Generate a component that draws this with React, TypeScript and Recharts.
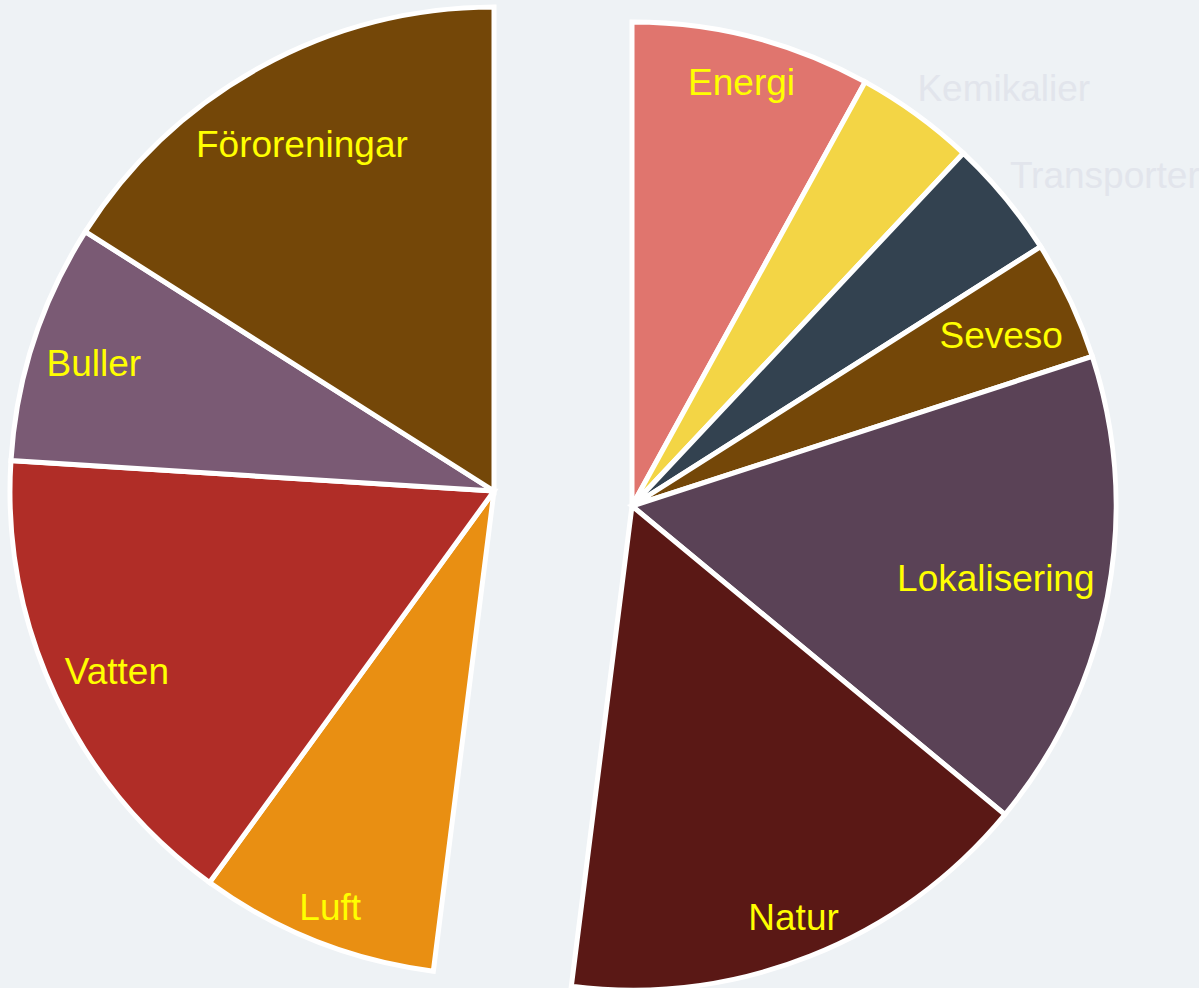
// Delat cirkeldiagram: miljöaspekter, två halvor förskjutna från varandra (Recharts)
import { PieChart, Pie, Cell } from 'recharts';

// Högra halvan (medurs från klockan 12)
const rightNames = ['Energi', 'Kemikalier', 'Transporter', 'Seveso', 'Lokalisering', 'Natur'];
const rightValues = [2, 1, 1, 1, 4, 4];
const rightColors = ['#e0756e', '#f3d545', '#334250', '#744708', '#5a4256', '#5a1815'];

// Vänstra halvan (fortsätter medurs)
const leftNames = ['Luft', 'Vatten', 'Buller', 'Föroreningar'];
const leftValues = [2, 4, 2, 4];
const leftColors = ['#e98f12', '#b02d27', '#7a5a74', '#744708'];

// Etiketter som hamnar utanför tårtan
const outsideLabels = ['Kemikalier', 'Transporter'];

const BG = '#eef2f5';
const LABEL_FONT = '"Liberation Sans", Arial, sans-serif';
const FONT_SIZE = 37;
const RADIUS = 484;

const rightData = rightNames.map((name, i) => ({ name, value: rightValues[i] }));
const leftData = leftNames.map((name, i) => ({ name, value: leftValues[i] }));

const sum = (arr: number[]) => arr.reduce((a, b) => a + b, 0);
const total = sum(rightValues) + sum(leftValues);
const splitAngle = 90 - (sum(rightValues) / total) * 360;

let canvas: HTMLCanvasElement | null = null;
function textWidth(text: string): number {
  if (!canvas) canvas = document.createElement('canvas');
  const ctx = canvas.getContext('2d');
  if (!ctx) return text.length * FONT_SIZE * 0.5;
  ctx.font = `${FONT_SIZE}px "Liberation Sans", Arial`;
  return ctx.measureText(text).width;
}

// Etiketten placeras längs mittvinkeln, så långt ut som texten ryms i sektorn
function renderLabel(props: any) {
  const { cx, cy, midAngle, outerRadius } = props;
  const name: string = props.name ?? props.payload?.name;
  const rad = Math.PI / 180;
  const ux = Math.cos(-midAngle * rad);
  const uy = Math.sin(-midAngle * rad);

  if (outsideLabels.includes(name)) {
    const r = outerRadius + 22;
    return (
      <text
        x={cx + r * ux - 12}
        y={cy + r * uy - 8}
        fill="#e2e5ec"
        fontSize={FONT_SIZE}
        fontFamily={LABEL_FONT}
        textAnchor="start"
        dominantBaseline="central"
      >
        {name}
      </text>
    );
  }

  const w = textWidth(name);
  const h = 28;
  const pad = 14;
  const c0 = Math.sign(ux) * w / 2;
  const c1 = Math.sign(uy) * h / 2;
  const uc = ux * c0 + uy * c1;
  const cc = c0 * c0 + c1 * c1;
  const lim = outerRadius - pad;
  const d = -uc + Math.sqrt(Math.max(0, uc * uc - cc + lim * lim));

  return (
    <text
      x={cx + d * ux}
      y={cy + d * uy + 3}
      fill="#ffff00"
      fontSize={FONT_SIZE}
      fontFamily={LABEL_FONT}
      textAnchor="middle"
      dominantBaseline="central"
    >
      {name}
    </text>
  );
}

export default function App() {
  return (
    <div
      style={{
        position: 'absolute',
        left: 0,
        top: 0,
        width: 1199,
        height: 988,
        background: BG,
        overflow: 'hidden',
      }}
    >
      <PieChart width={1199} height={988} margin={{ top: 0, right: 0, bottom: 0, left: 0 }}>
        <Pie
          data={rightData}
          dataKey="value"
          nameKey="name"
          cx={632}
          cy={506}
          outerRadius={RADIUS}
          startAngle={90}
          endAngle={splitAngle}
          stroke="#ffffff"
          strokeWidth={5}
          label={renderLabel}
          labelLine={false}
          isAnimationActive={false}
        >
          {rightData.map((d, i) => (
            <Cell key={d.name} fill={rightColors[i]} />
          ))}
        </Pie>
        <Pie
          data={leftData}
          dataKey="value"
          nameKey="name"
          cx={494}
          cy={491}
          outerRadius={RADIUS}
          startAngle={splitAngle}
          endAngle={-270}
          stroke="#ffffff"
          strokeWidth={5}
          label={renderLabel}
          labelLine={false}
          isAnimationActive={false}
        >
          {leftData.map((d, i) => (
            <Cell key={d.name} fill={leftColors[i]} />
          ))}
        </Pie>
      </PieChart>
    </div>
  );
}
